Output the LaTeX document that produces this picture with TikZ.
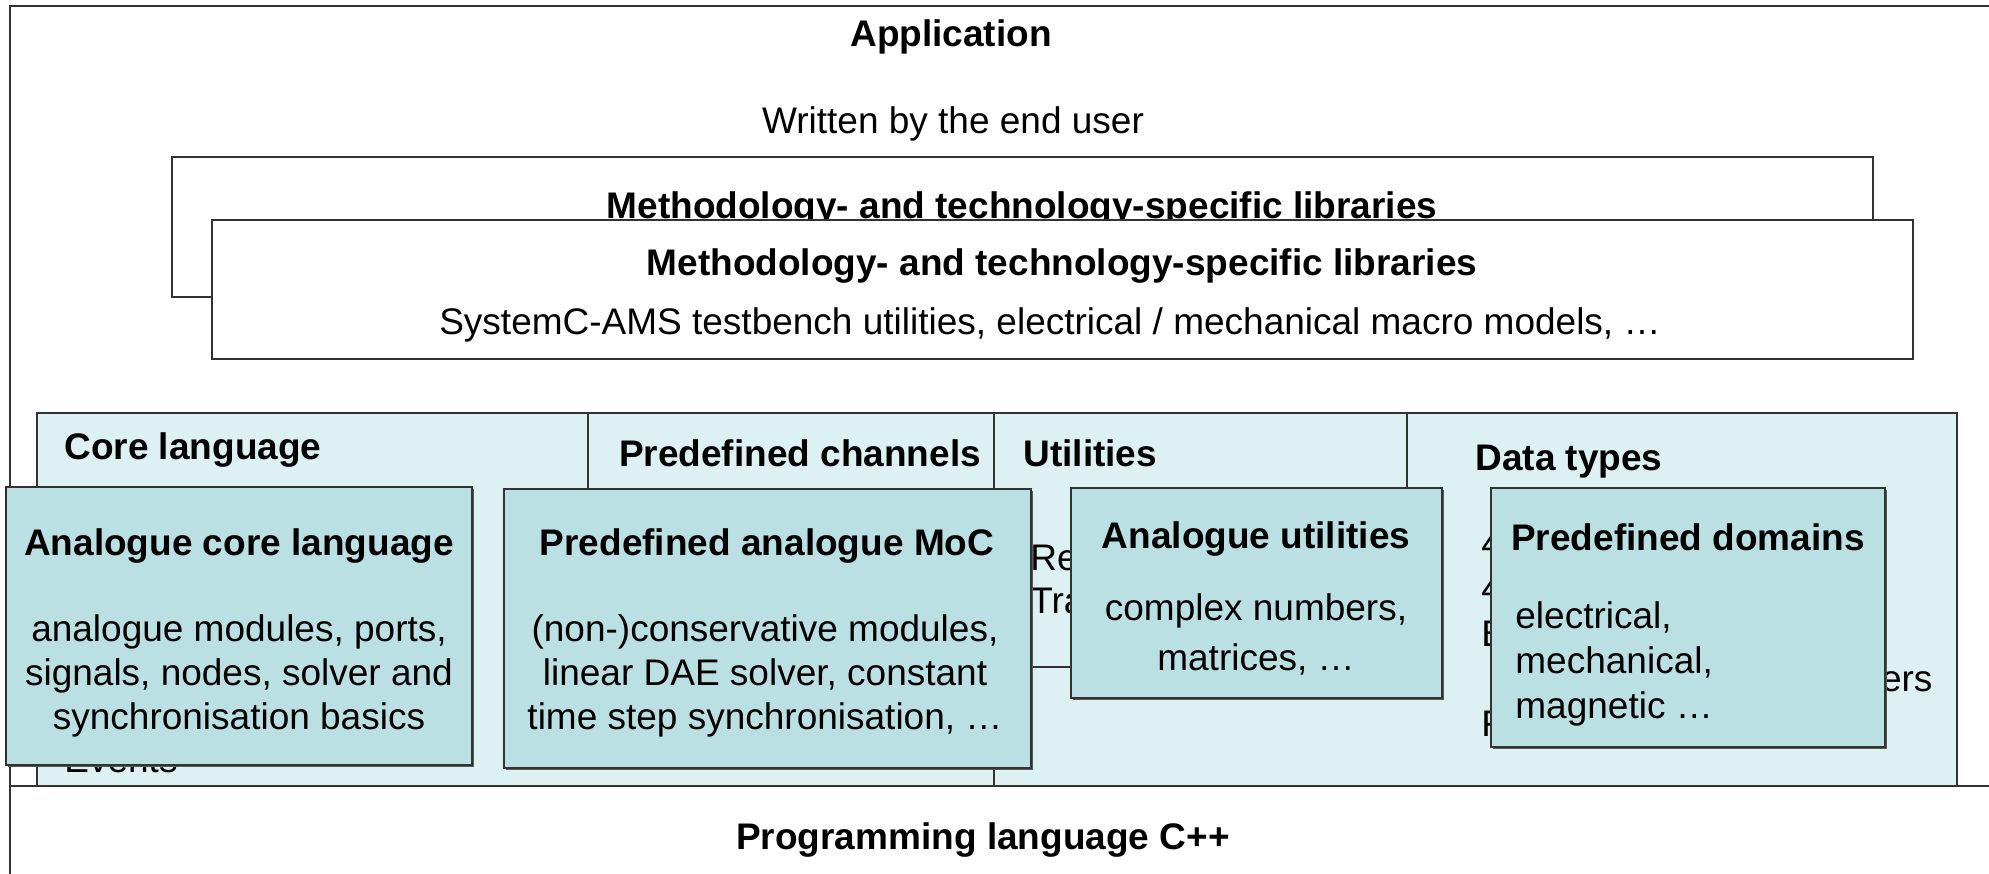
\documentclass[tikz,border=0pt]{standalone}
\usepackage{fontspec}
\setmainfont{Liberation Sans}
\usetikzlibrary{shadows}

\definecolor{corefill}{RGB}{221,240,242}
\definecolor{anafill}{RGB}{187,224,227}
\newcommand{\diagfont}{\fontsize{18.5}{22}\selectfont}

\tikzset{
  layer/.style={draw=black!80, line width=0.6pt},
  anabox/.style={layer, fill=anafill,
    drop shadow={shadow xshift=1.2pt, shadow yshift=-1.2pt, fill=black!65, opacity=1}},
  title/.style={font=\diagfont\bfseries, inner sep=0pt},
  body/.style={align=center, inner sep=0pt},
  hidden/.style={anchor=base west, inner sep=0pt},
}

\begin{document}
\begin{tikzpicture}[x=0.5pt, y=-0.5pt, every node/.style={font=\diagfont}]
  \useasboundingbox (0,0) rectangle (1989,873);
  \clip (0,0) rectangle (1989,873);
  % application layer
  \draw[layer] (10,6) rectangle (2100,1000);
  \node[title] (app) at (951,37) {Application};
  \node (appsub) at (953,124) {Written by the end user};
  % libraries
  \draw[layer, fill=white] (172,157) rectangle (1873,297);
  \node[title] (libback) at (1022,209) {Methodology- and technology-specific libraries};
  \draw[layer, fill=white] (212,220) rectangle (1913,359);
  \node[title] (libfront) at (1062,266) {Methodology- and technology-specific libraries};
  \node (libtext) at (1050,325) {SystemC-AMS testbench utilities, electrical / mechanical macro models, …};
  % SystemC layer
  \draw[layer, fill=corefill] (37,413) rectangle (1957,786);
  \draw[layer] (588,413) rectangle (994,667);
  \draw[layer] (994,413) rectangle (1407,667);
  \draw[layer] (994,667) -- (994,786);
  \node[title, anchor=west] (core) at (64,450) {Core language};
  \node[title] (chan) at (800,453) {Predefined channels};
  \node[title, anchor=west] (util) at (1023,453) {Utilities};
  \node[title, anchor=west] (dtypes) at (1475,462) {Data types};
  \foreach \txt [count=\i] in {Modules, Ports, Processes, Interfaces, Channels, Events}
    \node[hidden] (corelist\i) at (64,{772-43*(6-\i)}) {\txt};
  \foreach \txt [count=\i] in {Report handling, Tracing}
    \node[hidden] (utillist\i) at (1030,{570+43*(\i-1)}) {\txt};
  \foreach \txt/\dx [count=\i] in {4-valued logic type/1481, 4-valued logic vectors/1481,
      Bits and bit vectors/1481, Arbitrary-precision integers/1490, Fixed-point numbers/1481}
    \node[hidden] (dtlist\i) at (\dx,{556+45*(\i-1)}) {\txt};
  % C++ layer
  \draw[layer, fill=white] (10,786) rectangle (2100,1000);
  \node[title] (cpp) at (983,840) {Programming language C++};
  % analogue extensions
  \path[anabox] (6,487) rectangle (472,765);
  \node[title] (acl) at (239,546) {Analogue core language};
  \node[body] (acltext) at (239,676) {analogue modules, ports,\\signals, nodes, solver and\\synchronisation basics};
  \path[anabox] (504,489) rectangle (1031,768);
  \node[title] (moc) at (767,546) {Predefined analogue MoC};
  \node[body] (moctext) at (765,676) {(non-)conservative modules,\\linear DAE solver, constant\\time step synchronisation, …};
  \path[anabox] (1071,488) rectangle (1442,698);
  \node[title] (autil) at (1256,539) {Analogue utilities};
  \node[body, font=\fontsize{18.5}{25}\selectfont] (autiltext) at (1256,634) {complex numbers,\\matrices, …};
  \path[anabox] (1491,488) rectangle (1885,747);
  \node[title] (dom) at (1688,537) {Predefined domains};
  \node[body, align=left, anchor=west, font=\fontsize{18.5}{22.5}\selectfont] (domtext) at (1515,664) {electrical,\\mechanical,\\magnetic …};
\end{tikzpicture}
\end{document}
